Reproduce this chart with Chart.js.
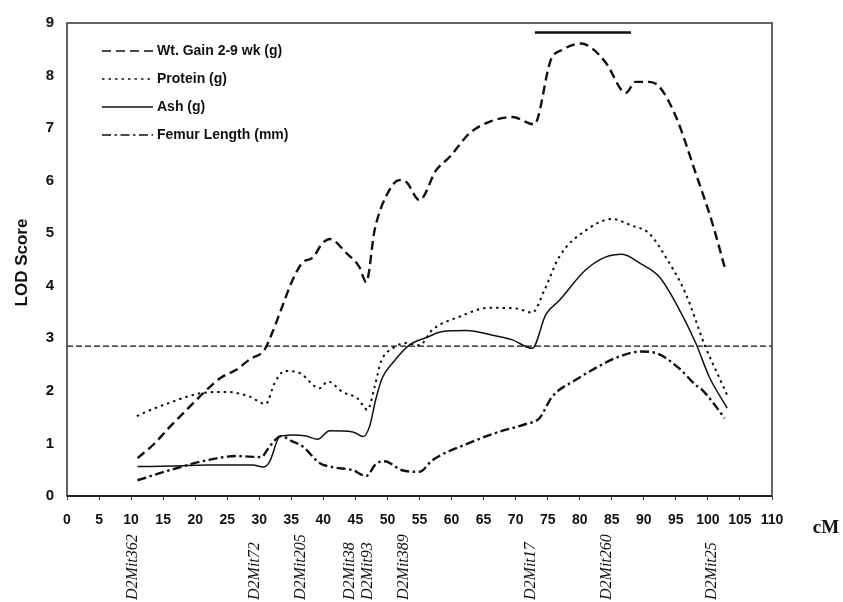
<!DOCTYPE html>
<html>
<head>
<meta charset="utf-8">
<script src="https://cdn.jsdelivr.net/npm/chart.js@4/dist/chart.umd.min.js"></script>
<style>
  html, body { margin: 0; padding: 0; background: #fff; }
  #wrap { width: 843px; height: 602px; }
</style>
</head>
<body>
<div id="wrap"><canvas id="lodChart" width="843" height="602"></canvas></div>
<script>
// position along chromosome 2 (cM) and LOD score for each trait
var wtGainCM  = [11, 13.5, 16, 19, 21.8, 24, 26.4, 28.5, 30.8, 32, 33.2, 35.2, 36.8, 38.3, 39.8, 41, 43.6, 45.6, 46.7, 48, 50.3, 51.9, 52.9, 55, 57.6, 59.7, 62.8, 65.9, 69.5, 72.9, 75.5, 77.3, 80.2, 81.9, 84.1, 87.2, 88.7, 90.8, 92.4, 95, 98.1, 100.7, 102.8];
var wtGainLOD = [0.72, 0.98, 1.31, 1.68, 2.02, 2.25, 2.40, 2.60, 2.78, 3.10, 3.48, 4.11, 4.45, 4.53, 4.80, 4.89, 4.62, 4.36, 4.07, 5.06, 5.82, 6.01, 5.98, 5.63, 6.20, 6.45, 6.90, 7.12, 7.21, 7.07, 8.30, 8.49, 8.61, 8.52, 8.24, 7.67, 7.88, 7.88, 7.79, 7.22, 6.14, 5.19, 4.27];

var proteinCM  = [10.9, 13.5, 16.6, 19, 21.8, 24.9, 28.5, 31, 32.4, 34, 36.3, 39.4, 40.7, 43, 45.3, 46.9, 48, 49, 50.8, 52.9, 55, 57, 61.2, 65.9, 70, 72.6, 74.5, 76.8, 80.9, 85.1, 88, 90.8, 93.4, 96.5, 99.6, 101.7, 103];
var proteinLOD = [1.52, 1.66, 1.80, 1.90, 1.97, 1.98, 1.89, 1.75, 2.15, 2.38, 2.34, 2.05, 2.18, 1.98, 1.86, 1.64, 2.08, 2.56, 2.81, 2.91, 2.87, 3.16, 3.41, 3.58, 3.57, 3.49, 3.92, 4.55, 5.05, 5.27, 5.15, 5.00, 4.55, 3.86, 2.84, 2.27, 1.92];

var ashCM  = [11, 16.6, 21.8, 29, 30.6, 31.6, 33.2, 35.2, 37.3, 39.1, 41, 44.6, 46.2, 47.2, 48.2, 49.2, 50.8, 53.4, 56, 58.6, 62.3, 66.4, 69.5, 72.6, 74.7, 76.8, 80.9, 84.1, 86.6, 89.5, 92.4, 95, 98.1, 100.2, 103];
var ashLOD = [0.56, 0.57, 0.59, 0.59, 0.55, 0.65, 1.13, 1.16, 1.14, 1.08, 1.24, 1.22, 1.13, 1.32, 1.85, 2.25, 2.53, 2.87, 3.01, 3.13, 3.15, 3.06, 2.97, 2.81, 3.45, 3.72, 4.30, 4.55, 4.60, 4.42, 4.17, 3.67, 2.91, 2.27, 1.67];

var femurCM  = [11, 16, 21.8, 26.4, 30.3, 31.6, 33.4, 35, 36.8, 39.4, 41.4, 44.6, 46.7, 48.2, 49.5, 52.3, 55, 57, 62.8, 67.4, 71.6, 73.7, 75.7, 79.4, 83, 86.1, 89.5, 91.9, 95.5, 98.1, 99.1, 100.7, 102.6];
var femurLOD = [0.30, 0.49, 0.68, 0.76, 0.74, 0.94, 1.14, 1.05, 0.94, 0.63, 0.55, 0.49, 0.38, 0.61, 0.66, 0.49, 0.46, 0.68, 1.01, 1.22, 1.37, 1.48, 1.89, 2.21, 2.47, 2.65, 2.75, 2.72, 2.43, 2.11, 2.02, 1.79, 1.48];

// significance threshold and the confidence interval bar
var thresholdLOD = 2.85;
var ciStartCM = 73, ciEndCM = 88, ciLOD = 8.82;

// markers under the axis
var markerNames = ["D2Mit362", "D2Mit72", "D2Mit205", "D2Mit38", "D2Mit93", "D2Mit389", "D2Mit17", "D2Mit260", "D2Mit25"];
var markerCM    = [10.3, 29.3, 36.5, 44.1, 46.9, 52.6, 72.4, 84.3, 100.6];

var legendNames = ["Wt. Gain 2-9 wk (g)", "Protein (g)", "Ash (g)", "Femur Length (mm)"];

function pts(xs, ys) {
  return xs.map(function (x, i) { return { x: x, y: ys[i] }; });
}

var ink = '#111';
var dashes = {
  wt: [9, 5],
  protein: [2.5, 4],
  ash: [],
  femur: [9, 3.5, 2.5, 3.5]
};

var extras = {
  id: 'extras',
  afterDraw: function (chart) {
    var ctx = chart.ctx;
    var a = chart.chartArea;
    var xs = chart.scales.x;
    ctx.save();

    // frame round the plot
    ctx.strokeStyle = '#333';
    ctx.lineWidth = 1.5;
    ctx.strokeRect(a.left, a.top, a.right - a.left, a.bottom - a.top);
    ctx.lineWidth = 2.2;
    ctx.strokeStyle = '#222';
    ctx.beginPath();
    ctx.moveTo(a.left, a.bottom);
    ctx.lineTo(a.right, a.bottom);
    ctx.stroke();

    // legend
    var styles = [
      { d: dashes.wt, w: 1.6 },
      { d: dashes.protein, w: 1.4 },
      { d: dashes.ash, w: 1.4 },
      { d: dashes.femur, w: 1.6 }
    ];
    ctx.font = 'bold 14px Arial, "Liberation Sans", sans-serif';
    ctx.textBaseline = 'middle';
    ctx.fillStyle = ink;
    legendNames.forEach(function (name, i) {
      var y = a.top + 28 + i * 28;
      ctx.strokeStyle = ink;
      ctx.lineWidth = styles[i].w;
      ctx.setLineDash(styles[i].d);
      ctx.beginPath();
      ctx.moveTo(a.left + 35, y);
      ctx.lineTo(a.left + 86, y);
      ctx.stroke();
      ctx.setLineDash([]);
      ctx.fillText(name, a.left + 90, y);
    });

    // y axis title
    ctx.save();
    ctx.translate(22, (a.top + a.bottom) / 2 + 3);
    ctx.rotate(-Math.PI / 2);
    ctx.textAlign = 'center';
    ctx.font = 'bold 17px Arial, "Liberation Sans", sans-serif';
    ctx.fillText('LOD Score', 0, 0);
    ctx.restore();

    // x axis unit
    ctx.font = 'bold 19px "Times New Roman", "Liberation Serif", serif';
    ctx.textAlign = 'center';
    ctx.textBaseline = 'alphabetic';
    ctx.fillText('cM', 826, 533);

    // marker names
    ctx.font = 'italic 16px "Times New Roman", "Liberation Serif", serif';
    ctx.textAlign = 'left';
    ctx.textBaseline = 'middle';
    markerNames.forEach(function (name, i) {
      var x = xs.getPixelForValue(markerCM[i]);
      ctx.save();
      ctx.translate(x, 600);
      ctx.rotate(-Math.PI / 2);
      ctx.fillText(name, 0, 0);
      ctx.restore();
    });

    ctx.restore();
  }
};

new Chart(document.getElementById('lodChart'), {
  type: 'line',
  data: {
    datasets: [
      { label: legendNames[0], data: pts(wtGainCM, wtGainLOD), borderDash: dashes.wt, borderWidth: 2.4 },
      { label: legendNames[1], data: pts(proteinCM, proteinLOD), borderDash: dashes.protein, borderWidth: 2 },
      { label: legendNames[2], data: pts(ashCM, ashLOD), borderDash: dashes.ash, borderWidth: 1.5 },
      { label: legendNames[3], data: pts(femurCM, femurLOD), borderDash: dashes.femur, borderWidth: 2.4 },
      { label: 'threshold', data: pts([0, 110], [thresholdLOD, thresholdLOD]), borderDash: [6, 3], borderWidth: 1.2 },
      { label: 'interval', data: pts([ciStartCM, ciEndCM], [ciLOD, ciLOD]), borderWidth: 2.5 }
    ]
  },
  options: {
    responsive: false,
    animation: false,
    layout: { padding: { top: 23, right: 71, left: 0, bottom: 0 } },
    elements: {
      line: { borderColor: ink, cubicInterpolationMode: 'monotone', fill: false },
      point: { radius: 0 }
    },
    plugins: {
      legend: { display: false },
      tooltip: { enabled: false }
    },
    scales: {
      x: {
        type: 'linear',
        min: 0,
        max: 110,
        afterFit: function (s) { s.height = 106; },
        grid: { display: true, drawOnChartArea: false, drawTicks: true, tickLength: 4, color: '#444' },
        border: { display: false },
        ticks: {
          stepSize: 5,
          padding: 12,
          color: ink,
          maxRotation: 0,
          autoSkip: false,
          font: { family: 'Arial, "Liberation Sans", sans-serif', size: 14, weight: 'bold' }
        }
      },
      y: {
        min: 0,
        max: 9,
        afterFit: function (s) { s.width = 67; },
        grid: { display: false, drawTicks: false },
        border: { display: false },
        ticks: {
          stepSize: 1,
          padding: 13,
          color: ink,
          font: { family: 'Arial, "Liberation Sans", sans-serif', size: 15, weight: 'bold' }
        }
      }
    }
  },
  plugins: [extras]
});
</script>
</body>
</html>
